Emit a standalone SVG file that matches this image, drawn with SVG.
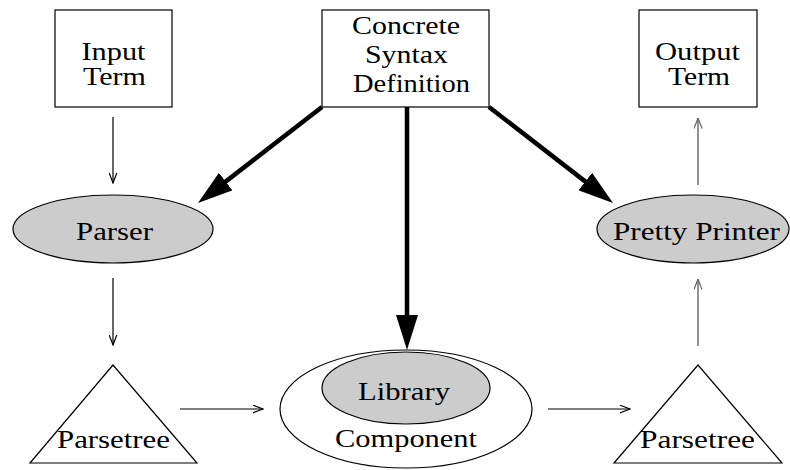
<svg xmlns="http://www.w3.org/2000/svg" width="790" height="470" viewBox="0 0 790 470">
<style>
text{font-family:"Liberation Serif","Times New Roman",serif;font-size:25px;fill:#000;text-anchor:middle}
.box{fill:#fff;stroke:#000;stroke-width:1.2}
.proc{fill:#ccc;stroke:#000;stroke-width:1.2}
.tri{fill:#fff;stroke:#000;stroke-width:1.2}
.comp{fill:#fff;stroke:#000;stroke-width:1.2}
.thin{fill:none;stroke:#000;stroke-width:1.2;marker-end:url(#open)}
.gray{fill:none;stroke:#666;stroke-width:1.4;marker-end:url(#open)}
.thick{fill:none;stroke:#000;stroke-width:4.5;marker-end:url(#solid)}
</style>
<defs>
<marker id="open" viewBox="0 0 11 9" markerWidth="11" markerHeight="9" refX="10.5" refY="4.5" orient="auto" markerUnits="userSpaceOnUse">
<path d="M0,0.5 L10.5,4.5 L0,8.5" fill="none" stroke="context-stroke" stroke-width="1.2"/>
</marker>
<marker id="solid" viewBox="0 0 35 22" markerWidth="35" markerHeight="22" refX="5" refY="11" orient="auto" markerUnits="userSpaceOnUse">
<path d="M0,0 L35,11 L0,22 z" fill="#000"/>
</marker>
</defs>

<g id="connectors">
<line class="thin" x1="113" y1="117" x2="113" y2="183"/>
<line class="thin" x1="113" y1="278" x2="113" y2="345"/>
<line class="thin" x1="180" y1="409" x2="263" y2="409"/>
<line class="thin" x1="548" y1="409" x2="630" y2="409"/>
<line class="gray" x1="698" y1="346" x2="698" y2="279"/>
<line class="gray" x1="698" y1="185" x2="698" y2="118"/>
<line class="thick" x1="322" y1="107" x2="221.7" y2="184.6"/>
<line class="thick" x1="489" y1="107" x2="589.3" y2="184.6"/>
<line class="thick" x1="407" y1="107" x2="407" y2="320"/>
</g>

<g id="input-term">
<rect class="box" x="55" y="10" width="117" height="97"/>
<text x="113.5" y="60" textLength="64" lengthAdjust="spacingAndGlyphs">Input</text>
<text x="114.5" y="85" textLength="63" lengthAdjust="spacingAndGlyphs">Term</text>
</g>

<g id="concrete-syntax">
<rect class="box" x="322" y="10" width="167" height="97"/>
<text x="406" y="34" textLength="108" lengthAdjust="spacingAndGlyphs">Concrete</text>
<text x="406.5" y="63" textLength="83" lengthAdjust="spacingAndGlyphs">Syntax</text>
<text x="411.5" y="92" textLength="117" lengthAdjust="spacingAndGlyphs">Definition</text>
</g>

<g id="output-term">
<rect class="box" x="639" y="10" width="118" height="97"/>
<text x="697.5" y="60" textLength="85" lengthAdjust="spacingAndGlyphs">Output</text>
<text x="699" y="85" textLength="62" lengthAdjust="spacingAndGlyphs">Term</text>
</g>

<g id="parser">
<ellipse class="proc" cx="113" cy="229" rx="100" ry="34"/>
<text x="114.5" y="240" textLength="77" lengthAdjust="spacingAndGlyphs">Parser</text>
</g>

<g id="pretty-printer">
<ellipse class="proc" cx="693" cy="229" rx="96" ry="34"/>
<text x="696.5" y="240" textLength="167" lengthAdjust="spacingAndGlyphs">Pretty Printer</text>
</g>

<g id="parsetree-left">
<polygon class="tri" points="113,365 30,463 197,463"/>
<text x="113.5" y="448" textLength="113" lengthAdjust="spacingAndGlyphs">Parsetree</text>
</g>

<g id="component">
<ellipse class="comp" cx="406" cy="409" rx="126" ry="59"/>
<text x="406" y="447" textLength="142" lengthAdjust="spacingAndGlyphs">Component</text>
</g>

<g id="library">
<ellipse class="proc" cx="406" cy="388" rx="84" ry="36"/>
<text x="404" y="400" textLength="92" lengthAdjust="spacingAndGlyphs">Library</text>
</g>

<g id="parsetree-right">
<polygon class="tri" points="698,365 614,463 782,463"/>
<text x="697.5" y="448" textLength="115" lengthAdjust="spacingAndGlyphs">Parsetree</text>
</g>
</svg>
